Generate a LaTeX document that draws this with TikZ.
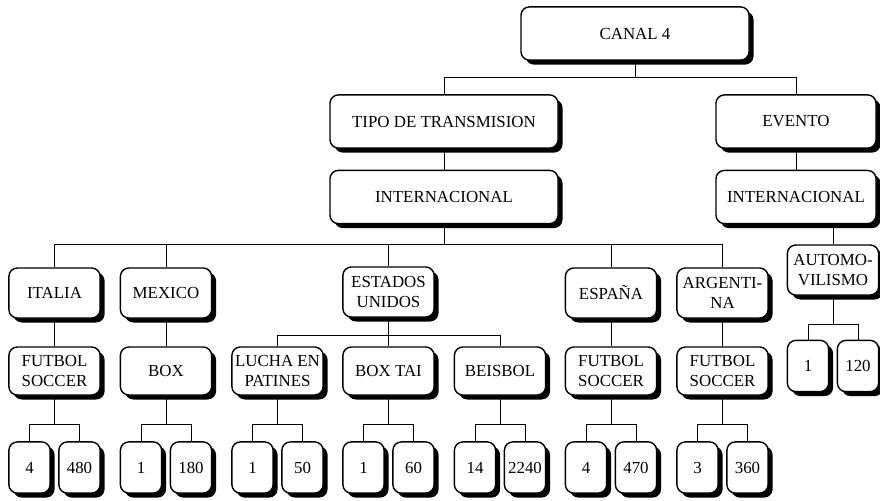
\documentclass[tikz,border=0pt]{standalone}
\usepackage{fontspec}
\setmainfont{Liberation Serif}
\usetikzlibrary{shadows,calc}

\tikzset{
  caja/.style={draw, line width=1pt, rounded corners=6pt, fill=white, align=center,
    inner sep=1pt, font=\fontsize{12}{14}\selectfont,
    drop shadow={fill=black, opacity=1, shadow xshift=3.2pt, shadow yshift=-3.2pt}},
  ancha/.style={caja, minimum width=5.7cm, minimum height=1.33cm},
  media/.style={caja, minimum width=4cm, minimum height=1.33cm},
  pais/.style={caja, minimum width=2.28cm, minimum height=1.25cm},
  deporte/.style={caja, minimum width=2.28cm, minimum height=1.2cm},
  num/.style={caja, minimum width=1.03cm, minimum height=1.28cm},
  linea/.style={line width=0.7pt}
}

\begin{document}
\begin{tikzpicture}[x=0.025cm, y=-0.025cm]
  \useasboundingbox (0,0) rectangle (880,500);

  % nivel superior
  \node[ancha] (canal) at (635,33.5) {CANAL 4};
  \node[ancha] (tipo) at (444,121.5) {TIPO DE TRANSMISION};
  \node[media] (evento) at (796,121.5) {EVENTO};
  \node[ancha] (inter) at (444,197) {INTERNACIONAL};
  \node[media] (inter2) at (796,197) {INTERNACIONAL};

  % paises
  \node[pais] (italia) at (54.5,293) {ITALIA};
  \node[pais] (mexico) at (166,293) {MEXICO};
  \node[pais] (eu) at (388.5,292) {ESTADOS\\UNIDOS};
  \node[pais] (espana) at (611,293) {ESPAÑA};
  \node[pais] (argentina) at (722.5,293) {ARGENTI-\\NA};
  \node[pais] (auto) at (833,270) {AUTOMO-\\VILISMO};

  % deportes
  \node[deporte] (fut1) at (54.5,371) {FUTBOL\\SOCCER};
  \node[deporte] (box) at (166,371) {BOX};
  \node[deporte] (lucha) at (277.5,371) {LUCHA EN\\PATINES};
  \node[deporte] (boxtai) at (388.5,371) {BOX TAI};
  \node[deporte] (beisbol) at (500,371) {BEISBOL};
  \node[deporte] (fut2) at (611,371) {FUTBOL\\SOCCER};
  \node[deporte] (fut3) at (722.5,371) {FUTBOL\\SOCCER};

  % conectores
  \draw[linea] (canal.south) -- ++(0,17) coordinate (k0);
  \draw[linea] (tipo.north) |- (k0) -| (evento.north);
  \draw[linea] (tipo) -- (inter);
  \draw[linea] (evento) -- (inter2);
  \draw[linea] (inter.south) -- ++(0,20) coordinate (k1);
  \draw[linea] (italia.north) |- (k1) -| (argentina.north);
  \draw[linea] (mexico.north) -- (mexico.north |- k1);
  \draw[linea] (eu.north) -- (eu.north |- k1);
  \draw[linea] (espana.north) -- (espana.north |- k1);
  \draw[linea] (auto.north) -- (auto.north |- inter2.south);
  \draw[linea] (eu.south) -- ++(0,18) coordinate (k2);
  \draw[linea] (lucha.north) |- (k2) -| (beisbol.north);
  \draw[linea] (boxtai.north) -- (boxtai.north |- k2);
  \foreach \a/\b in {italia/fut1, mexico/box, espana/fut2, argentina/fut3}
    \draw[linea] (\a) -- (\b);

  % cifras
  \foreach \c/\x/\y/\dy in {fut1/4/480/96.5, box/1/180/96.5, lucha/1/50/96.5,
      boxtai/1/60/96.5, beisbol/14/2240/96.5, fut2/4/470/96.5,
      fut3/3/360/96.5, auto/1/120/96}{
    \node[num] (\c-a) at ($(\c.center)+(-25,\dy)$) {\x};
    \node[num] (\c-b) at ($(\c.center)+(25,\dy)$) {\y};
    \draw[linea] (\c.south) -- ++(0,29) coordinate (\c-k);
    \draw[linea] (\c-a.north) |- (\c-k) -| (\c-b.north);
  }
\end{tikzpicture}
\end{document}
